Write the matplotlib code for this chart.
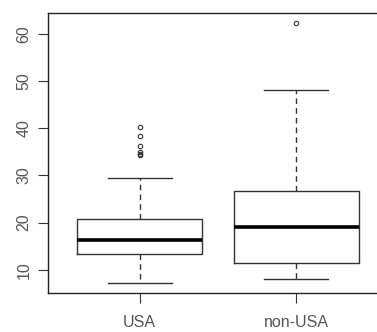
import matplotlib
matplotlib.use("Agg")
import matplotlib.pyplot as plt

groups = ["USA", "non-USA"]
whislo = [7.3, 8.0]
q1 = [13.4, 11.5]
med = [16.3, 19.1]
q3 = [20.7, 26.7]
whishi = [29.4, 48.0]
fliers = [[40.3, 38.3, 36.3, 35.0, 34.6, 34.4], [62.2]]

plt.rcParams['font.family'] = ['Liberation Sans', 'DejaVu Sans']

stats = []
for i, g in enumerate(groups):
    stats.append(dict(label=g, whislo=whislo[i], q1=q1[i], med=med[i],
                      q3=q3[i], whishi=whishi[i], fliers=fliers[i]))

fig = plt.figure(figsize=(3.77, 3.32), dpi=100)
ax = fig.add_axes([0.1273, 0.1175, 1.027 - 0.1273, 0.961 - 0.1175])

ax.bxp(stats, positions=[1, 2], widths=0.8, capwidths=0.41,
       boxprops=dict(color='#333333', linewidth=1.0),
       medianprops=dict(color='black', linewidth=2.6),
       whiskerprops=dict(color='#333333', linewidth=1.0, linestyle=(0, (4, 3))),
       capprops=dict(color='#333333', linewidth=1.0),
       flierprops=dict(marker='o', markersize=3.2, markerfacecolor='none',
                       markeredgecolor='#333333', markeredgewidth=0.8))

ax.set_xlim(0.415, 2.58)
ax.set_ylim(5.1, 64.4)
ax.set_yticks([10, 20, 30, 40, 50, 60])
ax.set_yticklabels(["10", "20", "30", "40", "50", "60"], rotation=90, va='center')
ax.tick_params(axis='both', length=7, width=0.8, color='#333333',
               labelcolor='#555555', labelsize=11.5)
ax.tick_params(axis='y', pad=5)
ax.tick_params(axis='x', pad=9)
for s in ax.spines.values():
    s.set_color('#222222')
    s.set_linewidth(1.0)

fig.savefig("out.png", dpi=100)
